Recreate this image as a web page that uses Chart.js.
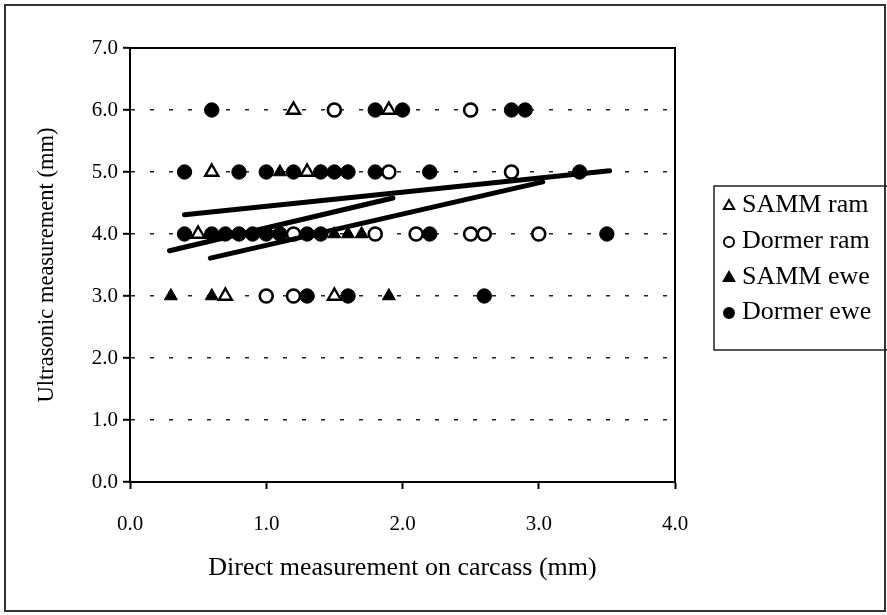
<!DOCTYPE html>
<html><head><meta charset="utf-8">
<script src="https://cdn.jsdelivr.net/npm/chart.js@4.4.1/dist/chart.umd.min.js"></script>
<style>
html,body{margin:0;padding:0;background:#fff;}
#wrap{position:relative;width:887px;height:615px;overflow:hidden;}
canvas{position:absolute;left:0;top:0;}
</style></head><body>
<div id="wrap"><canvas id="c" width="887" height="615"></canvas></div>
<script>
// ---- data ----
const seriesNames = ['SAMM ram', 'Dormer ram', 'SAMM ewe', 'Dormer ewe'];
const xTickValues = [0, 1, 2, 3, 4];
const yTickValues = [0, 1, 2, 3, 4, 5, 6, 7];

const sammRamX = [1.2, 1.9, 0.6, 1.3, 0.5, 0.7, 1.5];
const sammRamY = [6, 6, 5, 5, 4, 3, 3];

const dormerRamX = [1.5, 2.5, 1.9, 2.8, 1.2, 1.8, 2.1, 2.5, 2.6, 3.0, 1.0, 1.2];
const dormerRamY = [6, 6, 5, 5, 4, 4, 4, 4, 4, 4, 3, 3];

const sammEweX = [1.1, 1.4, 1.5, 1.6, 1.7, 0.3, 0.6, 1.9];
const sammEweY = [5, 5, 4, 4, 4, 3, 3, 3];

const dormerEweX = [0.6, 1.8, 2.0, 2.8, 2.9,
                    0.4, 0.8, 1.0, 1.2, 1.4, 1.5, 1.6, 1.8, 2.2, 3.3,
                    0.4, 0.6, 0.7, 0.8, 0.9, 1.0, 1.1, 1.3, 1.4, 2.2, 3.5,
                    1.3, 1.6, 2.6];
const dormerEweY = [6, 6, 6, 6, 6,
                    5, 5, 5, 5, 5, 5, 5, 5, 5, 5,
                    4, 4, 4, 4, 4, 4, 4, 4, 4, 4, 4,
                    3, 3, 3];

const trend1X = [0.40, 3.52], trend1Y = [4.31, 5.02];
const trend2X = [0.29, 1.93], trend2Y = [3.73, 4.58];
const trend3X = [0.59, 3.03], trend3Y = [3.61, 4.84];

// ---- build ----
const pts = (xs, ys) => xs.map((x, i) => ({x: x, y: ys[i]}));
const SERIF = "'Liberation Serif', 'Times New Roman', serif";

const markerStyles = [
  {pointStyle: 'triangle', pointRadius: 7.5, pointBackgroundColor: '#fff', pointBorderColor: '#000', pointBorderWidth: 2.4},
  {pointStyle: 'circle', pointRadius: 6.5, pointBackgroundColor: '#fff', pointBorderColor: '#000', pointBorderWidth: 2.6},
  {pointStyle: 'triangle', pointRadius: 7.5, pointBackgroundColor: '#000', pointBorderColor: '#000', pointBorderWidth: 1},
  {pointStyle: 'circle', pointRadius: 7.2, pointBackgroundColor: '#000', pointBorderColor: '#000', pointBorderWidth: 1}
];
const seriesData = [pts(sammRamX, sammRamY), pts(dormerRamX, dormerRamY), pts(sammEweX, sammEweY), pts(dormerEweX, dormerEweY)];

const datasets = seriesNames.map((n, i) => Object.assign({label: n, data: seriesData[i], showLine: false, order: 2}, markerStyles[i]));
[[trend1X, trend1Y], [trend2X, trend2Y], [trend3X, trend3Y]].forEach((t, i) => {
  datasets.push({label: 'trend' + (i + 1), type: 'line', data: pts(t[0], t[1]), borderColor: '#000', borderWidth: 5,
    pointRadius: 0, fill: false, showLine: true, borderCapStyle: 'round', order: 1, tension: 0});
});

const framePlugin = {
  id: 'frame',
  afterDraw(chart) {
    const {ctx, chartArea: a} = chart;
    ctx.save();
    ctx.strokeStyle = '#000';
    ctx.lineWidth = 2;
    ctx.strokeRect(a.left, a.top, a.right - a.left, a.bottom - a.top);
    // outer figure border
    ctx.strokeStyle = '#333';
    ctx.lineWidth = 2;
    ctx.strokeRect(5, 5, 880, 606);
    // legend
    const lx = 714, ly = 186, lw = 180, lh = 164;
    ctx.lineWidth = 1.5;
    ctx.strokeStyle = '#222';
    ctx.strokeRect(lx, ly, lw, lh);
    ctx.font = '26px ' + SERIF;
    ctx.fillStyle = '#000';
    ctx.textBaseline = 'middle';
    ctx.textAlign = 'left';
    const rows = [205, 241, 277, 312];
    seriesNames.forEach((n, i) => {
      const ms = markerStyles[i];
      ctx.fillStyle = ms.pointBackgroundColor;
      ctx.strokeStyle = ms.pointBorderColor;
      ctx.lineWidth = 2;
      Chart.helpers.drawPoint(ctx, {pointStyle: ms.pointStyle, radius: ms.pointStyle === 'triangle' ? 6 : 5, rotation: 0, borderWidth: 2}, 729, rows[i] + 1);
      ctx.fillStyle = '#000';
      ctx.fillText(n, 742, rows[i]);
    });
    ctx.restore();
  }
};

new Chart(document.getElementById('c'), {
  type: 'scatter',
  data: {datasets: datasets},
  options: {
    responsive: false,
    animation: false,
    devicePixelRatio: 1,
    layout: {padding: {left: 0, right: 212, top: 48, bottom: 0}},
    plugins: {legend: {display: false}, tooltip: {enabled: false}},
    scales: {
      x: {
        type: 'linear', min: 0, max: 4,
        afterBuildTicks: s => { s.ticks = xTickValues.map(v => ({value: v})); },
        ticks: {callback: v => Number(v).toFixed(1), font: {family: SERIF, size: 21}, color: '#000', padding: 23, maxRotation: 0},
        grid: {drawOnChartArea: false, drawTicks: true, tickLength: 7, tickColor: '#000', tickWidth: 2},
        border: {display: true, color: '#000', width: 2},
        title: {display: true, text: 'Direct measurement on carcass (mm)', font: {family: SERIF, size: 26}, color: '#000', padding: {top: 0, bottom: 31}},
        afterFit: s => { s.height = 133; }
      },
      y: {
        type: 'linear', min: 0, max: 7,
        afterBuildTicks: s => { s.ticks = yTickValues.map(v => ({value: v})); },
        ticks: {callback: v => Number(v).toFixed(1), font: {family: SERIF, size: 21}, color: '#000', padding: 5},
        grid: {
          color: c => (c.tick && (c.tick.value === 0 || c.tick.value === 7)) ? 'rgba(0,0,0,0)' : '#222',
          lineWidth: 1.6, borderDash: [4, 15], tickBorderDash: [], drawTicks: true, tickLength: 7, tickColor: '#000', tickWidth: 2
        },
        border: {display: true, color: '#000', width: 2, dash: [4, 15]},
        title: {display: true, text: 'Ultrasonic measurement (mm)', font: {family: SERIF, size: 22.5}, color: '#000', padding: {top: 34, bottom: 0}},
        afterFit: s => { s.width = 130; }
      }
    }
  },
  plugins: [framePlugin]
});
</script>
</body></html>
